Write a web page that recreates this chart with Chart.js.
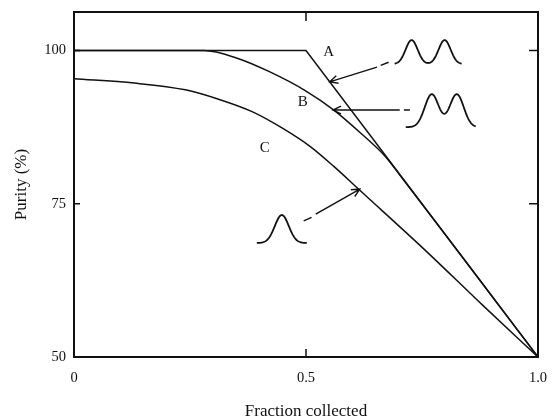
<!DOCTYPE html>
<html lang="en">
<head>
<meta charset="UTF-8">
<title>Purity vs fraction collected</title>
<script src="https://cdn.jsdelivr.net/npm/chart.js"></script>
<style>
  body { margin: 0; background: #fff; }
  #wrap { width: 552px; height: 418px; position: relative; }
</style>
</head>
<body>
<div id="wrap"><canvas id="purityChart"></canvas></div>
<script>
// A: perfectly resolved pair, B: partly resolved, C: single unresolved peak
const aFraction = [0, 0.5, 1.0];
const aPurity = [100, 100, 50];
const bFraction = [0, 0.28, 0.35, 0.42, 0.5, 0.56, 0.62, 0.67, 0.71, 0.8, 0.9, 1.0];
const bPurity = [100, 100, 98.8, 96.6, 93.4, 90.3, 86.4, 82.8, 78.9, 70, 60, 50];
const cFraction = [0, 0.13, 0.24, 0.31, 0.385, 0.45, 0.51, 0.56, 0.616, 0.76, 0.88, 1.0];
const cPurity = [95.4, 94.7, 93.6, 92.1, 90.0, 87.3, 84.3, 81.1, 77.2, 67.2, 58.5, 50];
const xTicks = [0, 0.5, 1.0];
const xTickLabels = ['0', '0.5', '1.0'];
const yTicks = [50, 75, 100];

const serif = '"Liberation Serif", "DejaVu Serif", serif';
const ink = '#111';

const toPoints = (xs, ys) => xs.map((x, i) => ({ x: x, y: ys[i] }));

function line(label, xs, ys, smooth) {
  return {
    label: label,
    data: toPoints(xs, ys),
    showLine: true,
    borderColor: ink,
    borderWidth: 1.5,
    pointRadius: 0,
    tension: smooth ? 0.4 : 0,
    cubicInterpolationMode: smooth ? 'monotone' : 'default'
  };
}

// little chromatogram sketches, drawn relative to an anchor point
function drawPeaks(ctx, x0, baseY, centers, width, sigma, height) {
  ctx.beginPath();
  for (let d = 0; d <= width; d += 0.5) {
    let v = 0;
    centers.forEach(c => { v += Math.exp(-((d - c) ** 2) / (2 * sigma * sigma)); });
    const py = baseY - height * v;
    if (d === 0) ctx.moveTo(x0 + d, py); else ctx.lineTo(x0 + d, py);
  }
  ctx.stroke();
}

function drawArrow(ctx, x1, y1, x2, y2) {
  const ang = Math.atan2(y2 - y1, x2 - x1);
  const len = 9, spread = 0.45;
  ctx.beginPath();
  ctx.moveTo(x1, y1);
  ctx.lineTo(x2, y2);
  ctx.moveTo(x2 - len * Math.cos(ang - spread), y2 - len * Math.sin(ang - spread));
  ctx.lineTo(x2, y2);
  ctx.lineTo(x2 - len * Math.cos(ang + spread), y2 - len * Math.sin(ang + spread));
  ctx.stroke();
}

const framePlugin = {
  id: 'frame',
  afterDatasetsDraw(chart) {
    const { ctx, chartArea: a, scales } = chart;
    const X = v => scales.x.getPixelForValue(v);
    const Y = v => scales.y.getPixelForValue(v);
    ctx.save();
    ctx.strokeStyle = ink;
    ctx.lineWidth = 2;
    ctx.strokeRect(a.left, a.top, a.right - a.left, a.bottom - a.top);

    // inward ticks on all four sides
    ctx.lineWidth = 1.5;
    ctx.beginPath();
    ctx.moveTo(X(0.5), a.bottom); ctx.lineTo(X(0.5), a.bottom - 8);
    ctx.moveTo(X(0.5), a.top); ctx.lineTo(X(0.5), a.top + 9);
    [75, 100].forEach(v => {
      ctx.moveTo(a.left, Y(v)); ctx.lineTo(a.left + 6, Y(v));
      ctx.moveTo(a.right, Y(v)); ctx.lineTo(a.right - 9, Y(v));
    });
    ctx.stroke();

    // curve letters
    ctx.fillStyle = ink;
    ctx.font = '15px ' + serif;
    ctx.textAlign = 'center';
    ctx.textBaseline = 'middle';
    ctx.fillText('A', X(0.549), Y(99.8));
    ctx.fillText('B', X(0.493), Y(91.6));
    ctx.fillText('C', X(0.411), Y(84.1));

    // arrows from the peak sketches to the curves
    ctx.lineWidth = 1.4;
    drawArrow(ctx, X(0.653), Y(97.3), X(0.551), Y(94.9));
    drawArrow(ctx, X(0.702), Y(90.3), X(0.558), Y(90.3));
    drawArrow(ctx, X(0.521), Y(73.3), X(0.616), Y(77.4));
    ctx.beginPath();
    ctx.moveTo(X(0.661), Y(97.6)); ctx.lineTo(X(0.678), Y(98.1));
    ctx.moveTo(X(0.711), Y(90.3)); ctx.lineTo(X(0.724), Y(90.3));
    ctx.moveTo(X(0.495), Y(72.2)); ctx.lineTo(X(0.512), Y(72.8));
    ctx.stroke();

    ctx.lineWidth = 1.8;
    drawPeaks(ctx, X(0.691), Y(97.8), [17, 50], 67, 6, 24);
    drawPeaks(ctx, X(0.715), Y(87.5), [26, 51], 70, 7, 33);
    drawPeaks(ctx, X(0.394), Y(68.6), [25], 50, 7, 28);
    ctx.restore();
  }
};

new Chart(document.getElementById('purityChart'), {
  type: 'scatter',
  data: {
    datasets: [
      line('A', aFraction, aPurity, false),
      line('B', bFraction, bPurity, true),
      line('C', cFraction, cPurity, true)
    ]
  },
  options: {
    responsive: true,
    maintainAspectRatio: false,
    animation: false,
    layout: { padding: { top: 12, right: 14, left: 0, bottom: 0 } },
    plugins: { legend: { display: false }, tooltip: { enabled: false } },
    scales: {
      x: {
        type: 'linear',
        min: 0,
        max: 1,
        grid: { display: false, drawTicks: false },
        border: { display: false },
        afterBuildTicks: s => { s.ticks = xTicks.map(v => ({ value: v })); },
        afterFit: s => {
          s.height = 61;
          s.paddingLeft = 0;
          s.paddingRight = 0;
        },
        ticks: {
          padding: 12,
          color: ink,
          font: { family: serif, size: 14.5 },
          maxRotation: 0,
          callback: v => xTickLabels[xTicks.indexOf(v)]
        },
        title: {
          display: true,
          text: 'Fraction collected',
          color: ink,
          font: { family: serif, size: 17, lineHeight: 1 },
          padding: { top: 0, bottom: -2 }
        }
      },
      y: {
        type: 'linear',
        min: 50,
        max: 106.3,
        grid: { display: false, drawTicks: false },
        border: { display: false },
        afterBuildTicks: s => { s.ticks = yTicks.map(v => ({ value: v })); },
        afterFit: s => {
          s.width = 74;
          s.paddingTop = 0;
          s.paddingBottom = 0;
        },
        ticks: {
          padding: 8,
          color: ink,
          font: { family: serif, size: 14.5 }
        },
        title: {
          display: true,
          text: 'Purity (%)',
          color: ink,
          font: { family: serif, size: 17, lineHeight: 1 },
          padding: { top: 13, bottom: 0 }
        }
      }
    }
  },
  plugins: [framePlugin]
});
</script>
</body>
</html>
